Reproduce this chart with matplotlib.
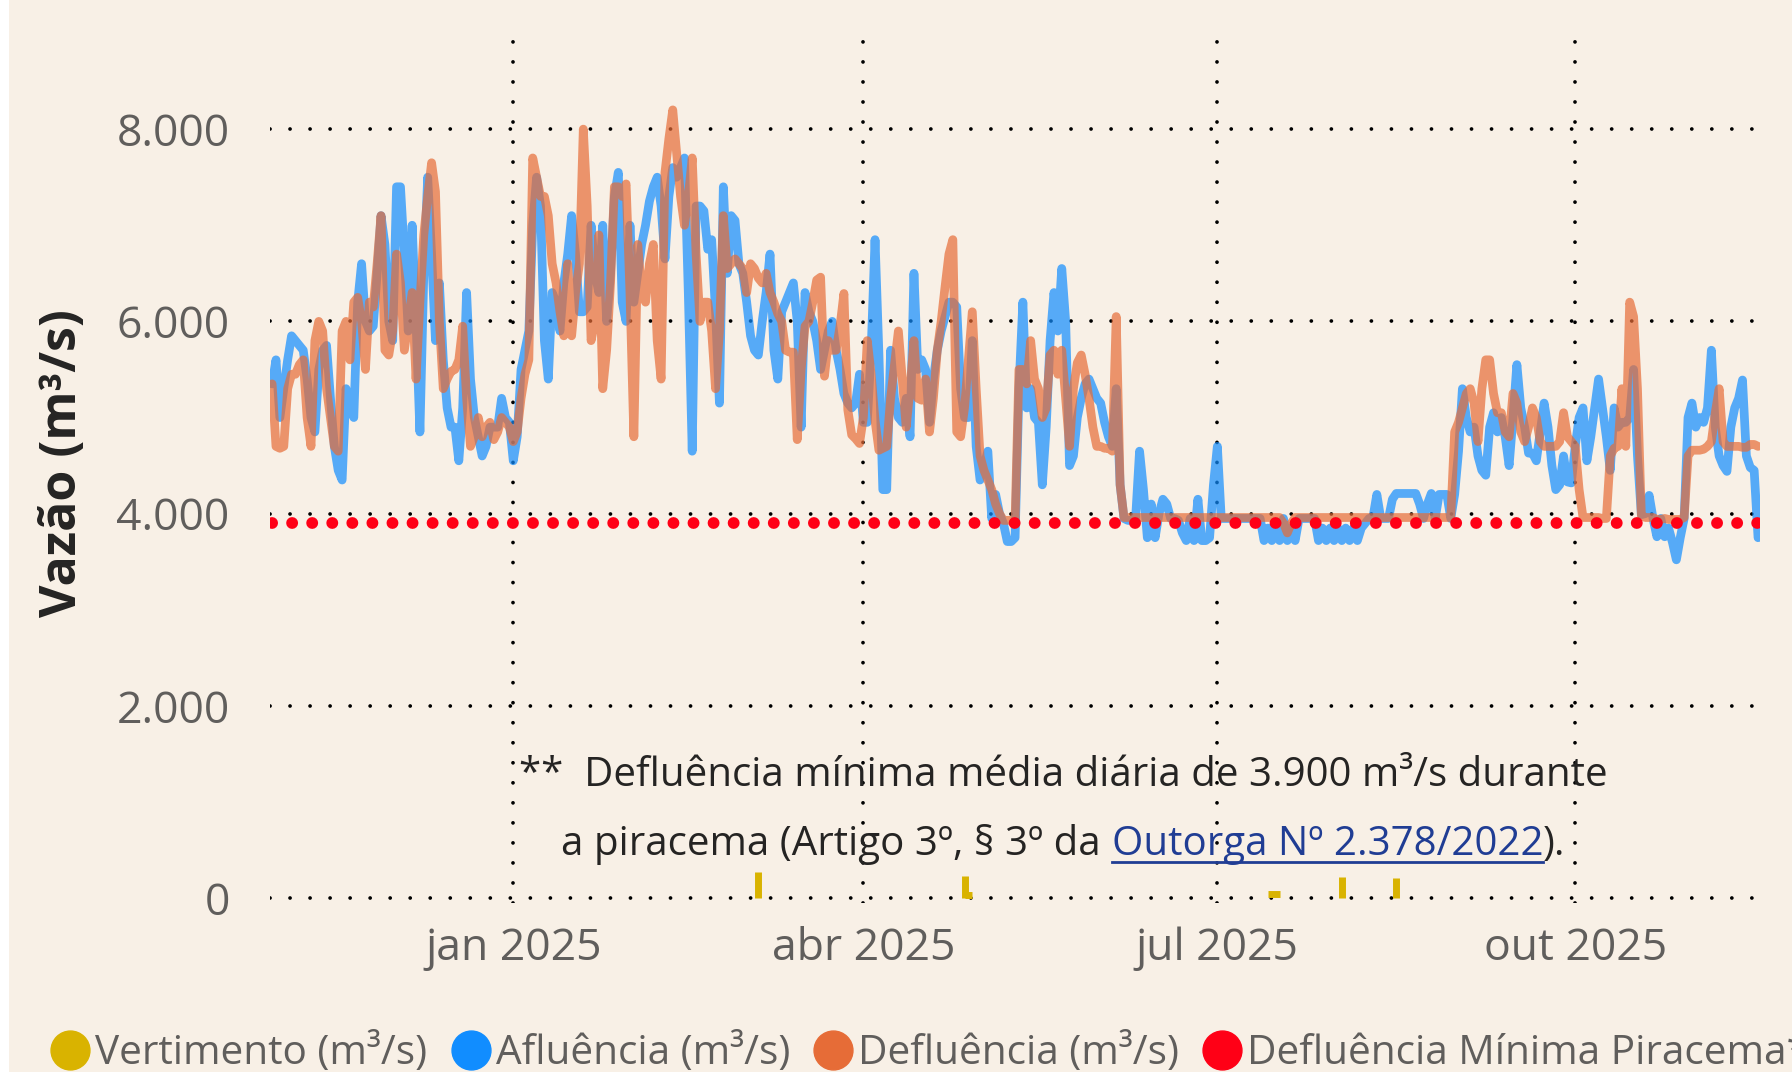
import matplotlib
matplotlib.use("Agg")
import matplotlib.pyplot as plt
import numpy as np
import pandas as pd
from matplotlib.lines import Line2D
from matplotlib.patches import Rectangle

# daily series, first day 2024-10-31
start_date = "2024-10-31"

afl_oct24 = [5350]
afl_nov24 = [5600, 5000, 5300, 5600, 5850, 5800, 5750, 5700, 5400, 5000,
             4850, 5500, 5700, 5750, 5200, 4700, 4450, 4350, 5300, 5100,
             5000, 6200, 6600, 6000, 5900, 5950, 6500, 7100, 6800, 6000]
afl_dec24 = [5800, 7400, 7400, 6700, 5900, 7000, 6000, 4850, 6500, 7500,
             6700, 5800, 6400, 5600, 5100, 4900, 4900, 4550, 5100, 6300,
             5400, 5000, 4800, 4600, 4700, 4900, 4900, 4900, 5200, 5000, 4950]
afl_jan25 = [4550, 4800, 5500, 5700, 5900, 7000, 7500, 7200, 5800, 5400,
             6300, 6200, 5900, 6400, 6700, 7100, 6700, 6100, 6100, 6150,
             7000, 6500, 6300, 7000, 6000, 6500, 7300, 7550, 6200, 6000, 7000]
afl_feb25 = [6200, 6500, 6800, 7000, 7250, 7400, 7500, 7200, 6650, 7300,
             7600, 7500, 7600, 7700, 6300, 4650, 7200, 7200, 7150, 6750,
             6850, 6100, 5150, 7400, 6500, 7100, 7050, 6600]
afl_mar25 = [6500, 6200, 5850, 5700, 5650, 6000, 6300, 6700, 5700, 5400,
             6100, 6200, 6300, 6400, 6000, 4900, 6300, 6100, 6000, 5800,
             5500, 5700, 5900, 6000, 5700, 5500, 5250, 5150, 5100, 5150, 5450]
afl_apr25 = [4950, 4950, 5700, 6850, 5650, 4250, 4250, 5700, 5200, 5000,
             4950, 5200, 4800, 6500, 5500, 5600, 5500, 4950, 5400, 5700,
             5900, 6050, 6200, 6200, 6150, 5300, 5000, 5000, 5800, 4700]
afl_may25 = [4350, 4500, 4650, 3950, 4200, 4000, 3900, 3710, 3710, 3750,
             5300, 6200, 5100, 5300, 5000, 4950, 4300, 4900, 5800, 6300,
             5900, 6550, 6000, 4500, 4600, 5000, 5200, 5350, 5400, 5300, 5200]
afl_jun25 = [5150, 4950, 4800, 4700, 5300, 4300, 3950, 3930, 3930, 3960,
             4650, 4250, 3750, 4100, 3750, 4000, 4150, 4100, 3950, 3950,
             3930, 3800, 3720, 3950, 3720, 4150, 3720, 3720, 3750, 4300]
afl_jul25 = [4700, 3950, 3950, 3950, 3950, 3950, 3950, 3950, 3950, 3950,
             3950, 3950, 3720, 3850, 3720, 3850, 3720, 3950, 3720, 3850,
             3720, 3950, 3950, 3950, 3950, 3950, 3720, 3850, 3720, 3850, 3720]
afl_aug25 = [3850, 3720, 3850, 3720, 3850, 3720, 3850, 3900, 3950, 3960,
             4200, 3950, 3950, 3950, 4150, 4210, 4210, 4210, 4210, 4210,
             4210, 4100, 3950, 4100, 4210, 3950, 4200, 4200, 4200, 3950, 4200]
afl_sep25 = [4650, 5300, 5000, 4850, 4900, 4600, 4450, 4400, 4900, 5050,
             4850, 5000, 4800, 4500, 5000, 5550, 5100, 4900, 4630, 4630,
             4550, 4850, 5150, 4900, 4500, 4250, 4300, 4600, 4330, 4320]
afl_oct25 = [4700, 5000, 5100, 4550, 4800, 5100, 5400, 5100, 4800, 4450,
             5100, 4900, 4950, 4950, 5000, 5500, 4600, 3990, 4000, 4190,
             3950, 3760, 3950, 3760, 3850, 3700, 3520, 3750, 3950, 5000, 5150]
afl_nov25 = [4900, 5000, 4950, 5100, 5700, 4900, 4600, 4500, 4440, 4900,
             5100, 5200, 5390, 4600, 4480, 4450, 3750]

def_oct24 = [5350]
def_nov24 = [4700, 4680, 4700, 5300, 5450, 5450, 5550, 5600, 5000, 4700,
             5800, 6000, 5900, 5300, 5000, 4700, 4650, 5900, 6000, 5600,
             6200, 6250, 6000, 5500, 6200, 6150, 6600, 7100, 5700, 5650]
def_dec24 = [5900, 6700, 6400, 5700, 6000, 6300, 5400, 6200, 6900, 7300,
             7650, 7350, 6000, 5300, 5400, 5480, 5500, 5600, 5950, 5200,
             4700, 4800, 5000, 4800, 4900, 4950, 4770, 4850, 5000, 4950, 4900]
def_jan25 = [4750, 4850, 5200, 5450, 5600, 7700, 7500, 7300, 7300, 7100,
             6600, 6400, 6100, 5850, 6600, 5850, 6300, 6600, 8000, 7200,
             5800, 6000, 6900, 5300, 5700, 6400, 7400, 7400, 7300, 7430, 6300]
def_feb25 = [4800, 6800, 6300, 6200, 6600, 6800, 5800, 5400, 7550, 7900,
             8200, 7750, 7300, 7000, 7300, 7700, 6700, 6000, 6200, 6200,
             5900, 5300, 5900, 7100, 6550, 6600, 6650, 6600]
def_mar25 = [6550, 6300, 6600, 6550, 6450, 6400, 6500, 6300, 6200, 6080,
             6000, 5700, 5680, 5680, 4770, 5500, 5950, 6000, 6200, 6430,
             6460, 5430, 5800, 5700, 5700, 5950, 6290, 5080, 4820, 4780, 4730]
def_apr25 = [5000, 5800, 5450, 4970, 4660, 4680, 4700, 5200, 5550, 5900,
             5400, 4900, 5300, 5800, 5200, 5180, 5400, 4850, 5200, 5700,
             6000, 6360, 6700, 6850, 4850, 4800, 5100, 5600, 6100, 5300]
def_may25 = [4600, 4450, 4350, 4250, 4100, 4000, 3930, 3930, 3930, 3930,
             5500, 5500, 5350, 5800, 5400, 5300, 5000, 5100, 5650, 5700,
             5450, 5700, 5200, 4700, 5300, 5570, 5650, 5450, 5200, 4900, 4700]
def_jun25 = [4700, 4680, 4680, 4650, 6050, 4300, 3960, 3960, 3960, 3960,
             3960, 3960, 3960, 3960, 3960, 3960, 3960, 3960, 3960, 3960,
             3960, 3960, 3960, 3960, 3960, 3960, 3960, 3960, 3960, 3960]
def_jul25 = [3960, 3960, 3960, 3960, 3960, 3960, 3960, 3960, 3960, 3960,
             3960, 3960, 3960, 3960, 3960, 3960, 3960, 3900, 3800, 3900,
             3960, 3960, 3960, 3960, 3960, 3960, 3960, 3960, 3960, 3960, 3960]
def_aug25 = [3960, 3960, 3960, 3960, 3960, 3960, 3960, 3960, 3960, 3960,
             3960, 3960, 3960, 3960, 3960, 3960, 3960, 3960, 3960, 3960,
             3960, 3960, 3960, 3960, 3960, 3960, 3960, 3960, 3960, 3960, 4850]
def_sep25 = [4950, 5100, 5250, 5300, 5150, 4750, 5300, 5600, 5600, 5250,
             5050, 5050, 4850, 4800, 5250, 5150, 4850, 4750, 4900, 5100,
             5000, 4750, 4700, 4700, 4700, 4700, 4750, 5050, 4800, 4750]
def_oct25 = [4700, 4250, 3960, 3960, 3960, 3960, 3960, 3950, 3950, 4600,
             4680, 4700, 5300, 4700, 6200, 6050, 5300, 3980, 3960, 3960,
             3960, 3940, 3940, 3950, 3940, 3940, 3940, 3940, 3960, 4600, 4660]
def_nov25 = [4660, 4660, 4670, 4700, 4750, 5050, 5300, 4750, 4700, 4700,
             4700, 4700, 4690, 4690, 4720, 4720, 4700]

piracema_min = 3900

# vertimento: short spikes and two low flat stretches
vert_dates = ["2025-03-05", "2025-04-27", "2025-08-02", "2025-08-16"]
vert_vals = [270, 230, 220, 210]
vert_flat_start = ["2025-04-27", "2025-07-14"]
vert_flat_end = ["2025-04-29", "2025-07-17"]
vert_flat_vals = [35, 40]

y_ticks = [0, 2000, 4000, 6000, 8000]
x_tick_dates = ["2025-01-01", "2025-04-01", "2025-07-01", "2025-10-01"]
x_tick_labels = ["jan 2025", "abr 2025", "jul 2025", "out 2025"]

legend_labels = ["Vertimento (m³/s)", "Afluência (m³/s)", "Defluência (m³/s)",
                 "Defluência Mínima Piracema**"]

note1 = "**  Defluência mínima média diária de 3.900 m³/s durante"
note2_pre = "a piracema (Artigo 3º, § 3º da "
note2_link = "Outorga Nº 2.378/2022"
note2_post = ")."

BG = "#F8F0E6"
BLUE = "#118DFF"
ORANGE = "#E66C37"
YELLOW = "#D9B300"
RED = "#FF0016"
TICK = "#605E5C"
DARK = "#252423"
LINK = "#203D94"

afluencia = np.array(afl_oct24 + afl_nov24 + afl_dec24 + afl_jan25 + afl_feb25 + afl_mar25
                     + afl_apr25 + afl_may25 + afl_jun25 + afl_jul25 + afl_aug25
                     + afl_sep25 + afl_oct25 + afl_nov25, dtype=float)
defluencia = np.array(def_oct24 + def_nov24 + def_dec24 + def_jan25 + def_feb25 + def_mar25
                      + def_apr25 + def_may25 + def_jun25 + def_jul25 + def_aug25
                      + def_sep25 + def_oct25 + def_nov25, dtype=float)
assert len(afluencia) == len(defluencia), (len(afluencia), len(defluencia))
dates = pd.date_range(start_date, periods=len(afluencia), freq="D")

plt.rcParams["font.family"] = ["Open Sans", "DejaVu Sans"]

W, H = 1792, 1072
fig = plt.figure(figsize=(W / 100, H / 100), dpi=100)
fig.patch.set_facecolor(BG)
fig.add_artist(Rectangle((0, 0), 9 / W, 1, transform=fig.transFigure,
                         facecolor="white", edgecolor="none"))

ax = fig.add_axes([270 / W, 1 - 903 / H, 1490 / W, 870 / H])
ax.set_facecolor(BG)
ax.set_axisbelow(True)
for s in ax.spines.values():
    s.set_visible(False)

line_kw = dict(lw=6.3, alpha=0.7, solid_joinstyle="round", solid_capstyle="round")
ax.plot(dates, afluencia, color=BLUE, zorder=3, **line_kw)
ax.plot(dates, defluencia, color=ORANGE, zorder=4, **line_kw)

ax.vlines(pd.to_datetime(vert_dates), 0, vert_vals, colors=YELLOW, lw=5, zorder=5)
ax.hlines(vert_flat_vals, pd.to_datetime(vert_flat_start), pd.to_datetime(vert_flat_end),
          colors=YELLOW, lw=5, zorder=5)

ax.plot(dates, np.full(len(dates), piracema_min), color=RED, lw=8.5,
        linestyle=(0, (0.01, 1.69)), dash_capstyle="round", zorder=6)

t0 = pd.Timestamp("2024-11-01")
ax.set_xlim(t0 - pd.Timedelta(days=1.54), t0 + pd.Timedelta(days=381.5))
ax.set_ylim(-50, 9000)

ax.set_yticks(y_ticks)
ax.set_yticklabels([f"{v:,}".replace(",", ".") for v in y_ticks])
ax.set_xticks(pd.to_datetime(x_tick_dates))
ax.set_xticklabels(x_tick_labels)
ax.tick_params(axis="both", length=0, labelsize=32, labelcolor=TICK)
ax.tick_params(axis="y", pad=29)
ax.tick_params(axis="x", pad=17)
ax.grid(True, color="black", lw=2.7, linestyle=(0, (0.01, 5.33)), dash_capstyle="round")

fig.text(63 / W, 1 - 463 / H, "Vazão (m³/s)", rotation=90, ha="center", va="center",
         fontsize=36, fontweight="bold", color=DARK)

# footnote inside the plot
cx = 0.5326
note_fs = 29
ax.text(cx, (903 - 786) / 870, note1, transform=ax.transAxes, ha="center",
        va="baseline", fontsize=note_fs, color=DARK, zorder=7)

fig.canvas.draw()
r = fig.canvas.get_renderer()


def text_w(s):
    t = ax.text(0, 0, s, fontsize=note_fs)
    w = t.get_window_extent(r).width
    t.remove()
    return w


full = note2_pre + note2_link + note2_post
w_full = text_w(full)
w_pre_link = text_w(note2_pre + note2_link)
w_link = text_w(note2_link)
w_post = text_w(note2_post)
bbox = ax.get_window_extent(r)
cx_px = bbox.x0 + cx * bbox.width
base_px = bbox.y0 + (903 - 855) / 870 * bbox.height
left = cx_px - w_full / 2
link_x = left + w_pre_link - w_link
post_x = left + w_full - w_post
inv = ax.transAxes.inverted()


def to_ax(px, py):
    return inv.transform((px, py))


ax.text(*to_ax(left, base_px), note2_pre, transform=ax.transAxes, ha="left",
        va="baseline", fontsize=note_fs, color=DARK, zorder=7)
ax.text(*to_ax(link_x, base_px), note2_link, transform=ax.transAxes, ha="left",
        va="baseline", fontsize=note_fs, color=LINK, zorder=7)
ax.text(*to_ax(post_x, base_px), note2_post, transform=ax.transAxes, ha="left",
        va="baseline", fontsize=note_fs, color=DARK, zorder=7)
u0 = to_ax(link_x, base_px - 7)
u1 = to_ax(link_x + w_link, base_px - 7)
ax.add_line(Line2D([u0[0], u1[0]], [u0[1], u1[1]], transform=ax.transAxes,
                   color=LINK, lw=2.0, zorder=7))

legend_colors = [YELLOW, BLUE, ORANGE, RED]
handles = [Line2D([], [], ls="none", marker="o", markersize=28,
                  markerfacecolor=c, markeredgecolor=c) for c in legend_colors]
fig.legend(handles, legend_labels, loc="center left", bbox_to_anchor=(50 / W, 1 - 1054 / H),
           ncol=4, frameon=False, fontsize=29.2, handlelength=1.0, handletextpad=0.12,
           columnspacing=0.56, borderpad=0, borderaxespad=0, labelcolor=TICK)

fig.savefig("out.png", dpi=100, facecolor=BG)
